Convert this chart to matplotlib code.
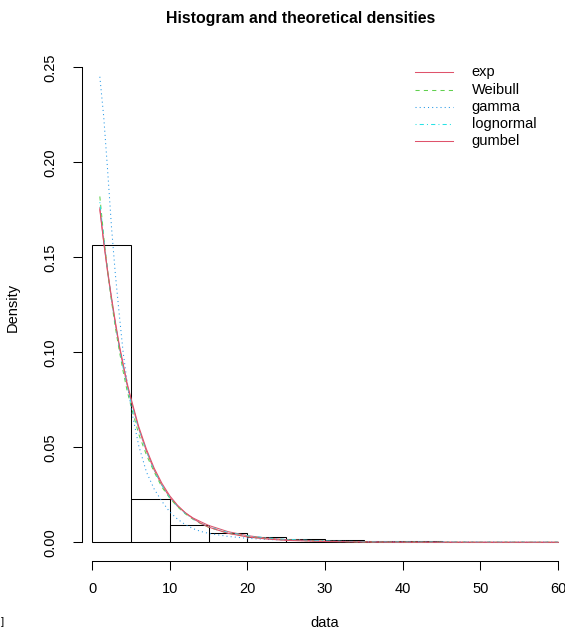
import matplotlib
matplotlib.use("Agg")
import matplotlib.pyplot as plt
from matplotlib.lines import Line2D

plt.rcParams['font.family'] = ['Liberation Sans', 'DejaVu Sans']

# ---- data ----
bin_edges = [0, 5, 10, 15, 20, 25, 30, 35, 40, 45, 50, 55, 60]
bin_density = [0.1565, 0.0228, 0.0093, 0.0047, 0.0028, 0.0018, 0.0010,
               0.0005, 0.0006, 0.0001, 0.0001, 0.0002]

x_curve = [1, 1.5, 2, 2.5, 3, 3.5, 4, 4.5, 5, 6, 7, 8, 9, 10, 11, 12, 13, 14,
           15, 17.5, 20, 22.5, 25, 30, 35, 40, 50, 60]
dens_exp = [0.176, 0.158, 0.142, 0.128, 0.115, 0.103, 0.093, 0.083, 0.075,
            0.060, 0.048, 0.038, 0.030, 0.0237, 0.0190, 0.0155, 0.0128, 0.0108,
            0.0089, 0.0056, 0.0035, 0.0022, 0.0014, 0.0006, 0.00025, 0.0001,
            0.00002, 0.000004]
dens_weibull = [0.182, 0.161, 0.143, 0.127, 0.113, 0.101, 0.090, 0.080, 0.072,
                0.057, 0.046, 0.037, 0.029, 0.0233, 0.0187, 0.0150, 0.0121,
                0.0098, 0.0079, 0.0048, 0.0030, 0.0019, 0.0012, 0.0005, 0.0002,
                0.0001, 0.00002, 0.000005]
dens_gamma = [0.245, 0.224, 0.196, 0.166, 0.141, 0.120, 0.100, 0.085, 0.071,
              0.051, 0.037, 0.028, 0.0215, 0.0160, 0.0122, 0.0093, 0.0072,
              0.0057, 0.0047, 0.0031, 0.0021, 0.0015, 0.0011, 0.0006, 0.00035,
              0.0002, 0.00008, 0.00003]
dens_lognormal = [0.179, 0.160, 0.143, 0.128, 0.115, 0.103, 0.092, 0.083,
                  0.074, 0.060, 0.048, 0.038, 0.030, 0.0238, 0.0190, 0.0152,
                  0.0123, 0.0100, 0.0082, 0.0052, 0.0034, 0.0023, 0.0015,
                  0.0007, 0.0003, 0.00015, 0.00004, 0.00001]
dens_gumbel = [0.175, 0.158, 0.143, 0.129, 0.116, 0.104, 0.094, 0.084, 0.076,
               0.061, 0.049, 0.039, 0.031, 0.0245, 0.0195, 0.0156, 0.0125,
               0.0100, 0.0080, 0.0047, 0.0028, 0.0017, 0.0010, 0.0004, 0.00015,
               0.00005, 0.00001, 0.0]

labels = ['exp', 'Weibull', 'gamma', 'lognormal', 'gumbel']
curves = [dens_exp, dens_weibull, dens_gamma, dens_lognormal, dens_gumbel]
colors = ['#DF536B', '#61D04F', '#2297E6', '#28E2E5', '#DF536B']
styles = ['-', (0, (4, 4)), (0, (1, 3)), (0, (1, 3, 4, 3)), '-']

x_ticks = [0, 10, 20, 30, 40, 50, 60]
y_ticks = [0.00, 0.05, 0.10, 0.15, 0.20, 0.25]
y_ticklabels = ['0.00', '0.05', '0.10', '0.15', '0.20', '0.25']

# ---- figure ----
W, H = 565, 631
fig = plt.figure(figsize=(W / 100, H / 100), dpi=100)
L, R, T, B = 81.5, 576.4, 53.2, 561.1
ax = fig.add_axes([L / W, 1 - B / H, (R - L) / W, (B - T) / H])
ax.set_xlim(-1.36, 62.36)
ax.set_ylim(-0.0099, 0.2574)

lefts = bin_edges[:-1]
widths = [bin_edges[i + 1] - bin_edges[i] for i in range(len(lefts))]
ax.bar(lefts, bin_density, width=widths, align='edge', fill=False,
       edgecolor='black', linewidth=0.75)

for yv, lab, col, ls in zip(curves, labels, colors, styles):
    ax.plot(x_curve, yv, color=col, linestyle=ls, linewidth=0.75)

for s in ['top', 'right']:
    ax.spines[s].set_visible(False)
ax.spines['bottom'].set_bounds(0, 60)
ax.spines['left'].set_bounds(0, 0.25)
for s in ['bottom', 'left']:
    ax.spines[s].set_linewidth(0.75)
ax.set_xticks(x_ticks)
ax.set_xticklabels([str(v) for v in x_ticks])
ax.set_yticks(y_ticks)
ax.set_yticklabels(y_ticklabels, rotation=90, va='center')
ax.tick_params(axis='both', direction='out', length=6.2, width=0.75,
               labelsize=10.5)
ax.tick_params(axis='x', pad=8.5)
ax.tick_params(axis='y', pad=11)

def fx(px):
    return px / W

def fy(py):
    return 1 - py / H

fig.text(fx(300.5), fy(18), 'Histogram and theoretical densities',
         ha='center', va='center', fontsize=11.4, fontweight='bold')
fig.text(fx(325), fy(623), 'data', ha='center', va='center', fontsize=10.5)
fig.text(fx(13), fy(307), 'Density', ha='center', va='center',
         rotation=90, fontsize=10.5)
fig.text(fx(2), fy(622), ']', ha='center', va='center', fontsize=8)

# legend (no box)
row_y = [72.3, 89.5, 106.7, 123.9, 141.1]
for yy, lab, col, ls in zip(row_y, labels, colors, styles):
    fig.add_artist(Line2D([fx(415), fx(453)], [fy(yy), fy(yy)],
                          color=col, linestyle=ls, linewidth=0.75))
    fig.text(fx(471.7), fy(yy), lab, ha='left', va='center', fontsize=10.5)

fig.savefig('out.png', dpi=100)
